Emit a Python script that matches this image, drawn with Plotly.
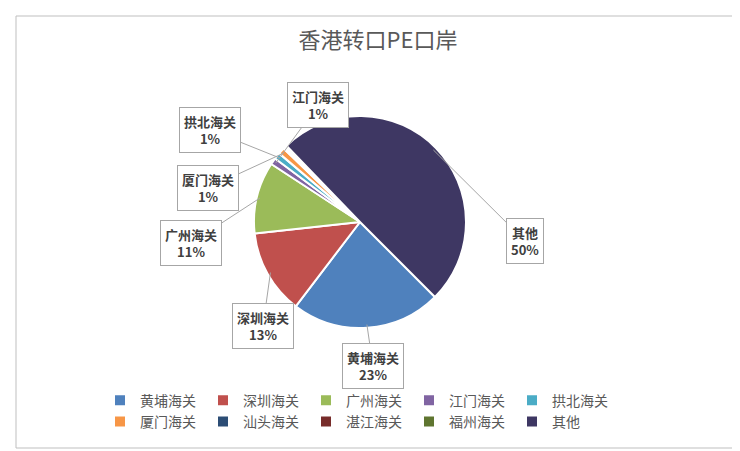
import plotly.graph_objects as go
import math

labels = ["黄埔海关","深圳海关","广州海关","江门海关","拱北海关","厦门海关","汕头海关","湛江海关","福州海关","其他"]
values = [23, 13, 11, 1, 1, 1, 0.3, 0.2, 0.1, 50]
colors = ["#4F81BD","#C0504D","#9BBB59","#8064A2","#4BACC6","#F79646","#2C4D75","#772C2A","#5F7530","#3E3763"]
shown = {"黄埔海关":(365,358),"深圳海关":(255,318),"广州海关":(183,235),"江门海关":(310,97),
         "拱北海关":(202,122),"厦门海关":(200,180),"其他":(517,233)}

W, H = 740, 451
ML, MR = 92, 118
PW = W - ML - MR
def xp(px): return (px - ML) / PW
def yp(py): return 1 - py / H

cx, cy, R = 352, 214, 106
rot = 135

fig = go.Figure(go.Pie(labels=labels, values=values, sort=False, direction="clockwise",
                       rotation=rot, marker=dict(colors=colors, line=dict(color="white", width=2)),
                       textinfo="none", hoverinfo="label+percent",
                       domain=dict(x=[xp(cx-R), xp(cx+R)], y=[yp(cy+R), yp(cy-R)])))

total = sum(values)
cum = 0
for lab, v in zip(labels, values):
    mid = rot + (cum + v/2)/total*360
    cum += v
    if lab not in shown:
        continue
    th = math.radians(mid)
    px, py = cx + R*0.97*math.sin(th), cy - R*0.97*math.cos(th)
    lx, ly = shown[lab]
    fig.add_annotation(x=xp(px), y=yp(py), xref="paper", yref="paper",
                       ax=lx-px, ay=ly-py,
                       text=f"<b>{lab}<br>{round(v/total*100):.0f}%</b>",
                       showarrow=True, arrowhead=0, arrowwidth=1, arrowcolor="#A6A6A6",
                       bordercolor="#A6A6A6", borderwidth=1, bgcolor="white", borderpad=4,
                       font=dict(size=13, color="#404040"))

fig.add_shape(type="rect", xref="paper", yref="paper", x0=xp(8), x1=xp(728), y0=yp(440), y1=yp(8),
              line=dict(color="#BFBFBF", width=1), layer="above")
fig.update_layout(width=W, height=H, margin=dict(l=ML, r=MR, t=0, b=0),
                  paper_bgcolor="white", plot_bgcolor="white",
                  font=dict(family="Noto Sans CJK SC", color="#595959"),
                  title=dict(text="香港转口PE口岸", x=0.5, xref="container", y=0.945, xanchor="center",
                             font=dict(size=22, color="#595959")),
                  legend=dict(orientation="h", x=0.0, y=0.165, xanchor="left", yanchor="top",
                              entrywidth=58, entrywidthmode="pixels", bgcolor="rgba(0,0,0,0)",
                              font=dict(size=14, color="#595959"), itemwidth=30))
fig.write_html("out.html")
